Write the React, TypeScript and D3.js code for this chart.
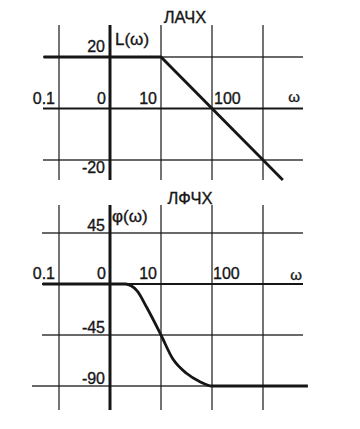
import React from "react";
import * as d3 from "d3";

const omegaTicks = [0.1, 1, 10, 100, 1000];
const omegaLabels = [
  { w: 0.1, text: "0.1" },
  { w: 1, text: "0" },
  { w: 10, text: "10" },
  { w: 100, text: "100" },
];
const ampTicks = [20, 0, -20];
const phaseTicks = [45, 0, -45, -90];

const ampW = [0.05, 10, 2450];
const ampL = [20, 20, -27.8];

const phaseW = [0.048, 2.0, 2.6, 3.4, 5.3, 10, 17, 32, 57, 100, 7600];
const phaseV = [0, 0, -1.5, -6, -21, -45, -66, -79, -86, -90, -90];

const INK = "#161616";
const FONT = "'Liberation Sans', Arial, sans-serif";

export default function App() {
  const x = d3.scaleLog().domain([0.1, 1000]).range([59, 263]);
  const yA = d3.scaleLinear().domain([-20, 20]).range([160, 57]);
  const yP = d3.scaleLinear().domain([-90, 45]).range([386, 233]);

  const ampLine = d3
    .line<number>()
    .x((_, i) => x(ampW[i]))
    .y((d) => yA(d));
  const phaseLine = d3
    .line<number>()
    .x((_, i) => x(phaseW[i]))
    .y((d) => yP(d))
    .curve(d3.curveMonotoneX);

  const topGrid = { y0: 25, y1: 180, x0: 43, x1: 303 };
  const botGrid = { y0: 205, y1: 410, x0: 42, x1: 303 };
  const txt = { stroke: INK, strokeWidth: 0.35 };

  return (
    <svg
      width={360}
      height={429}
      style={{ position: "absolute", left: 0, top: 0, background: "#fff" }}
      fontFamily={FONT}
      fill={INK}
    >
      {/* ===== ЛАЧХ ===== */}
      <text x={185} y={23} fontSize={16.5} textAnchor="middle" {...txt}>ЛАЧХ</text>
      {omegaTicks.map((w) => (
        <line
          key={"tv" + w}
          x1={x(w)}
          x2={x(w)}
          y1={topGrid.y0}
          y2={topGrid.y1}
          stroke={INK}
          strokeWidth={w === 1 ? 3 : 1.4}
          opacity={w === 1 ? 1 : 0.85}
        />
      ))}
      {ampTicks.map((v) => (
        <line
          key={"th" + v}
          x1={topGrid.x0}
          x2={topGrid.x1}
          y1={yA(v)}
          y2={yA(v)}
          stroke={INK}
          strokeWidth={v === 0 ? 2.2 : 1.4}
          opacity={v === 0 ? 1 : 0.85}
        />
      ))}
      <path d={ampLine(ampL) || ""} fill="none" stroke={INK} strokeWidth={2.8} />
      {omegaLabels.map((o) => (
        <text
          key={"tl" + o.w}
          x={o.w === 100 ? x(o.w) + 2 : x(o.w) - 4}
          y={104}
          fontSize={16}
          textAnchor={o.w === 100 ? "start" : "end"}
          {...txt}
        >
          {o.text}
        </text>
      ))}
      <text x={300} y={102} fontSize={15} textAnchor="end" {...txt}>ω</text>
      {ampTicks
        .filter((v) => v !== 0)
        .map((v) => (
          <text key={"ta" + v} x={105} y={yA(v) + (v > 0 ? -5 : 13)} fontSize={16} textAnchor="end" {...txt}>
            {v}
          </text>
        ))}
      <text x={115} y={45} fontSize={17} {...txt}>L(ω)</text>

      {/* ===== ЛФЧХ ===== */}
      <text x={190} y={204} fontSize={16.5} textAnchor="middle" {...txt}>ЛФЧХ</text>
      {omegaTicks.map((w) => (
        <line
          key={"bv" + w}
          x1={x(w)}
          x2={x(w)}
          y1={botGrid.y0}
          y2={botGrid.y1}
          stroke={INK}
          strokeWidth={w === 1 ? 3 : 1.4}
          opacity={w === 1 ? 1 : 0.85}
        />
      ))}
      {phaseTicks.map((v) => (
        <line
          key={"bh" + v}
          x1={v === -90 ? 32 : botGrid.x0}
          x2={v === -90 ? 307 : botGrid.x1}
          y1={yP(v)}
          y2={yP(v)}
          stroke={INK}
          strokeWidth={v === 0 ? 2.2 : 1.4}
          opacity={v === 0 ? 1 : 0.85}
        />
      ))}
      <path d={phaseLine(phaseV) || ""} fill="none" stroke={INK} strokeWidth={2.8} />
      {omegaLabels.map((o) => (
        <text
          key={"bl" + o.w}
          x={o.w === 100 ? x(o.w) + 1 : x(o.w) - 4}
          y={279}
          fontSize={16}
          textAnchor={o.w === 100 ? "start" : "end"}
          {...txt}
        >
          {o.text}
        </text>
      ))}
      <text x={302} y={280} fontSize={15} textAnchor="end" {...txt}>ω</text>
      {phaseTicks
        .filter((v) => v !== 0)
        .map((v) => (
          <text key={"bp" + v} x={105} y={yP(v) - 2} fontSize={16} textAnchor="end" {...txt}>
            {v}
          </text>
        ))}
      <text x={112} y={222} fontSize={17} {...txt}>φ(ω)</text>
    </svg>
  );
}
